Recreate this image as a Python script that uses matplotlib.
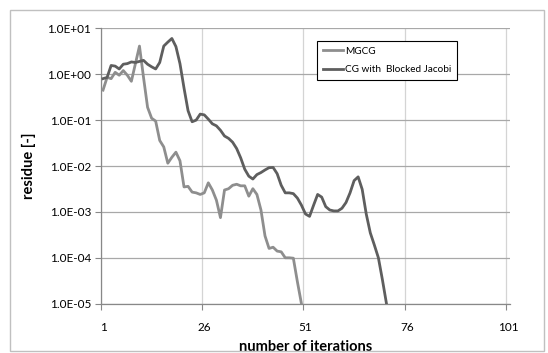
import matplotlib
matplotlib.use('Agg')
import matplotlib.pyplot as plt
from matplotlib.patches import Rectangle
from matplotlib.ticker import FixedLocator, NullFormatter, FixedFormatter

plt.rcParams['font.family'] = ['Lato', 'DejaVu Sans']

# 讀圖估計的數值
mgcg = [0.45, 0.85, 0.8, 1.1, 0.95, 1.2, 0.95, 0.7, 1.7, 4.1,
        0.85, 0.19, 0.11, 0.095, 0.036, 0.026, 0.0115, 0.0155, 0.02, 0.013,
        0.0035, 0.0036, 0.0027, 0.0026, 0.0024, 0.0026, 0.0043, 0.003, 0.0018, 0.00075,
        0.003, 0.0032, 0.0038, 0.004, 0.0037, 0.0037, 0.0022, 0.0032, 0.0024, 0.0011,
        0.0003, 0.00016, 0.00017, 0.00014, 0.000135, 0.0001, 0.0001, 0.000098, 3e-5, 1e-5]
cg_jacobi = [0.8, 0.85, 1.55, 1.5, 1.3, 1.65, 1.7, 1.85, 1.8, 1.9,
             2.0, 1.65, 1.45, 1.3, 1.8, 4.1, 5.0, 6.0, 4.0, 1.7,
             0.5, 0.16, 0.092, 0.1, 0.135, 0.13, 0.105, 0.083, 0.075, 0.06,
             0.045, 0.04, 0.033, 0.024, 0.015, 0.0085, 0.006, 0.0052, 0.0065, 0.0072,
             0.0082, 0.0092, 0.0093, 0.0068, 0.0038, 0.0026, 0.0026, 0.0025, 0.002, 0.0014,
             0.0009, 0.0008, 0.0014, 0.0024, 0.0021, 0.0013, 0.0011, 0.00105, 0.00105, 0.0012,
             0.0016, 0.0026, 0.0048, 0.0058, 0.0031, 0.0009, 0.00035, 0.00019, 0.0001, 3.3e-5,
             1e-5]
x_labels = ['1', '26', '51', '76', '101']
y_labels = ['1.0E-05', '1.0E-04', '1.0E-03', '1.0E-02', '1.0E-01', '1.0E+00', '1.0E+01']

fig = plt.figure(figsize=(5.48, 3.53), dpi=100)
ax = fig.add_axes([101/548, 1-303.7/353, 409/548, 275.4/353])

# 外框
fig.patches.append(Rectangle((10/548, 2/353), 534/548, 341/353, transform=fig.transFigure,
                             fill=False, edgecolor='#c0c0c0', linewidth=1.0))

it1 = list(range(1, len(mgcg) + 1))
it2 = list(range(1, len(cg_jacobi) + 1))
ax.plot(it1, mgcg, color='#8e8e8e', linewidth=2.0, label='MGCG', zorder=3)
ax.plot(it2, cg_jacobi, color='#5e5e5e', linewidth=2.0, label='CG with  Blocked Jacobi', zorder=3)

ax.set_yscale('log')
ax.set_ylim(1e-5, 1e1)
ax.set_xlim(0.5, 101.5)

ax.yaxis.set_major_locator(FixedLocator([10.0**k for k in range(-5, 2)]))
ax.yaxis.set_minor_locator(FixedLocator([]))
ax.yaxis.set_major_formatter(FixedFormatter(y_labels))

ax.xaxis.set_major_locator(FixedLocator([0.5, 25.5, 50.5, 75.5, 100.5]))
ax.xaxis.set_major_formatter(NullFormatter())
ax.xaxis.set_minor_locator(FixedLocator([int(s) for s in x_labels]))
ax.xaxis.set_minor_formatter(FixedFormatter(x_labels))

ax.tick_params(axis='y', which='major', length=4, color='#888888', labelsize=8.5, pad=3)
ax.tick_params(axis='x', which='major', length=4, color='#888888')
ax.tick_params(axis='x', which='minor', length=0, labelsize=8.5, pad=13)

ax.grid(True, axis='y', which='major', color='#a8a8a8', linewidth=0.9)
ax.grid(True, axis='x', which='major', color='#d4d4d4', linewidth=0.9)

for s in ['top', 'right']:
    ax.spines[s].set_visible(False)
for s in ['left', 'bottom']:
    ax.spines[s].set_color('#888888')
    ax.spines[s].set_linewidth(0.9)

ax.set_ylabel('residue [-]', fontsize=10.5, fontweight='bold', labelpad=8)
ax.set_xlabel('number of iterations', fontsize=10.5, fontweight='bold', labelpad=5)

leg = ax.legend(loc='upper left', bbox_to_anchor=((317-101)/409, (303.7-40.7)/275.4),
                fontsize=7.2, frameon=True, fancybox=False, framealpha=1,
                handlelength=2.0, handletextpad=0.2, borderpad=0.6, labelspacing=0.95,
                borderaxespad=0)
leg.get_frame().set_edgecolor('black')
leg.get_frame().set_linewidth(0.8)

fig.savefig('out.png', dpi=100)
